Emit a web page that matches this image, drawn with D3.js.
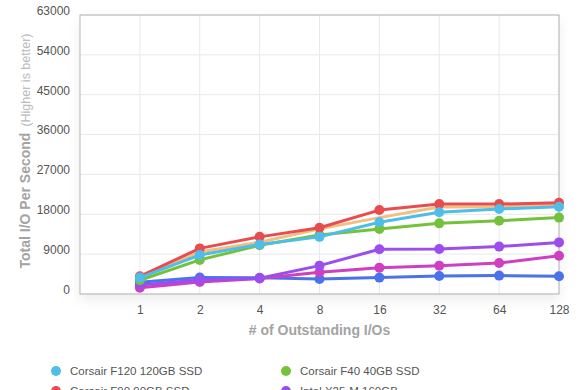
<!DOCTYPE html>
<html>
<head>
<meta charset="utf-8">
<script src="https://cdn.jsdelivr.net/npm/d3@7"></script>
<style>
  body { margin: 0; background: #fff; }
  svg { font-family: "Liberation Sans", Arial, Helvetica, sans-serif; display: block; }
</style>
</head>
<body>
<div id="chart"></div>
<script>
// categorias do eixo x (número de I/Os pendentes)
const categories = ["1", "2", "4", "8", "16", "32", "64", "128"];
const yTicks = [0, 9000, 18000, 27000, 36000, 45000, 54000, 63000];

// valores por série (IOPS)
const f120 = [3700, 8800, 11200, 12900, 16200, 18450, 19200, 19700];
const f90 = [4000, 10300, 12900, 14950, 18950, 20300, 20300, 20600];
const f40 = [3100, 7700, 11000, 13300, 14700, 15950, 16550, 17250];
const intel = [2050, 3150, 3550, 6400, 10100, 10150, 10700, 11650];
const tan = [3500, 9500, 11700, 14700, 17250, 19650, 19700, 20100];
const magenta = [1400, 2700, 3500, 4900, 5950, 6400, 7000, 8650];
const blueDark = [2650, 3700, 3650, 3400, 3700, 4050, 4150, 4000];

const seriesNames = [
    "Corsair F120 120GB SSD", "Corsair F40 40GB SSD",
    "Corsair F90 90GB SSD", "Intel X25-M 160GB",
    "OCZ Vertex 2 100GB SSD", "Kingston SSDNow V 64GB",
    "WD VelociRaptor 300GB"
];

const series = [
    { name: seriesNames[4], values: tan, color: "#efc07f", dots: false },
    { name: seriesNames[6], values: blueDark, color: "#4a72ea", dots: true },
    { name: seriesNames[5], values: magenta, color: "#cf3fc0", dots: true },
    { name: seriesNames[3], values: intel, color: "#9b4ded", dots: true },
    { name: seriesNames[1], values: f40, color: "#74c23b", dots: true },
    { name: seriesNames[2], values: f90, color: "#e84c4f", dots: true },
    { name: seriesNames[0], values: f120, color: "#4fbdea", dots: true }
];

// só as duas primeiras linhas da legenda cabem na imagem
const legendItems = [
    { name: seriesNames[0], color: "#4fbdea" },
    { name: seriesNames[1], color: "#74c23b" },
    { name: seriesNames[2], color: "#e84c4f" },
    { name: seriesNames[3], color: "#9b4ded" }
];

const W = 580, H = 390;
const margin = { top: 15, right: 21, bottom: 96, left: 80 };
const width = W - margin.left - margin.right,
    height = H - margin.top - margin.bottom;

const svg = d3.select("#chart")
    .append("svg")
    .attr("width", W)
    .attr("height", H);

// sombra suave embaixo da área do gráfico
const defs = svg.append("defs");
const f = defs.append("filter").attr("id", "shadow")
    .attr("x", "-10%").attr("y", "-10%").attr("width", "120%").attr("height", "130%");
f.append("feDropShadow").attr("dx", 0).attr("dy", 6).attr("stdDeviation", 6)
    .attr("flood-color", "#000").attr("flood-opacity", 0.07);

const g = svg.append("g")
    .attr("transform", `translate(${margin.left},${margin.top})`);

const x = d3.scaleLinear()
    .domain([0, categories.length])
    .range([0, width]);

const y = d3.scaleLinear()
    .domain([0, 63000])
    .range([height, 0]);

g.append("rect")
    .attr("width", width).attr("height", height)
    .attr("fill", "#fff")
    .attr("filter", "url(#shadow)");

// grade
g.append("g")
    .selectAll("line")
    .data(yTicks)
    .join("line")
    .attr("x1", 0).attr("x2", width)
    .attr("y1", d => y(d)).attr("y2", d => y(d))
    .attr("stroke", "#e9e9e9");

g.append("g")
    .selectAll("line")
    .data(categories)
    .join("line")
    .attr("x1", (d, i) => x(i + 1)).attr("x2", (d, i) => x(i + 1))
    .attr("y1", 0).attr("y2", height)
    .attr("stroke", "#e9e9e9");

g.append("rect")
    .attr("width", width).attr("height", height)
    .attr("fill", "none")
    .attr("stroke", "#b5b5b5");

// eixos
const yAxis = g.append("g")
    .call(d3.axisLeft(y).tickValues(yTicks).tickSize(0).tickPadding(10).tickFormat(d3.format("d")));
yAxis.select(".domain").remove();
yAxis.selectAll("text")
    .attr("dy", "-0.05em")
    .style("font-size", "12px")
    .style("fill", "#555");

const xAxis = g.append("g")
    .attr("transform", `translate(0,${height})`)
    .call(d3.axisBottom(x).tickValues(d3.range(1, categories.length + 1))
        .tickSize(0).tickPadding(11).tickFormat(i => categories[i - 1]));
xAxis.select(".domain").remove();
xAxis.selectAll("text")
    .style("font-size", "12px")
    .style("fill", "#555");

// linhas
const line = d3.line()
    .x((d, i) => x(i + 1))
    .y(d => y(d));

series.forEach(s => {
    g.append("path")
        .datum(s.values)
        .attr("fill", "none")
        .attr("stroke", s.color)
        .attr("stroke-width", 3)
        .attr("stroke-linejoin", "round")
        .attr("d", line);
    if (s.dots) {
        g.append("g")
            .selectAll("circle")
            .data(s.values)
            .join("circle")
            .attr("cx", (d, i) => x(i + 1))
            .attr("cy", d => y(d))
            .attr("r", 5)
            .attr("fill", s.color);
    }
});

// títulos dos eixos
svg.append("text")
    .attr("x", margin.left + width / 2)
    .attr("y", 335)
    .attr("text-anchor", "middle")
    .style("font-size", "14px")
    .style("font-weight", "bold")
    .style("fill", "#a3a3a3")
    .text("# of Outstanding I/Os");

const yTitle = svg.append("text")
    .attr("transform", `translate(30,${151}) rotate(-90)`)
    .attr("text-anchor", "middle");
yTitle.append("tspan")
    .style("font-size", "14px")
    .style("font-weight", "bold")
    .style("fill", "#a3a3a3")
    .text("Total I/O Per Second");
yTitle.append("tspan")
    .attr("dx", 6)
    .style("font-size", "12.5px")
    .style("fill", "#bbb")
    .text("(Higher is better)");

// legenda
const legend = svg.append("g");
legendItems.forEach((d, i) => {
    const col = i % 2, row = Math.floor(i / 2);
    const lx = 56 + col * 230, ly = 371 + row * 20;
    legend.append("circle")
        .attr("cx", lx).attr("cy", ly).attr("r", 5)
        .attr("fill", d.color);
    legend.append("text")
        .attr("x", lx + 14).attr("y", ly)
        .attr("dy", "0.35em")
        .style("font-size", "11.5px")
        .style("fill", "#555")
        .text(d.name);
});
</script>
</body>
</html>
